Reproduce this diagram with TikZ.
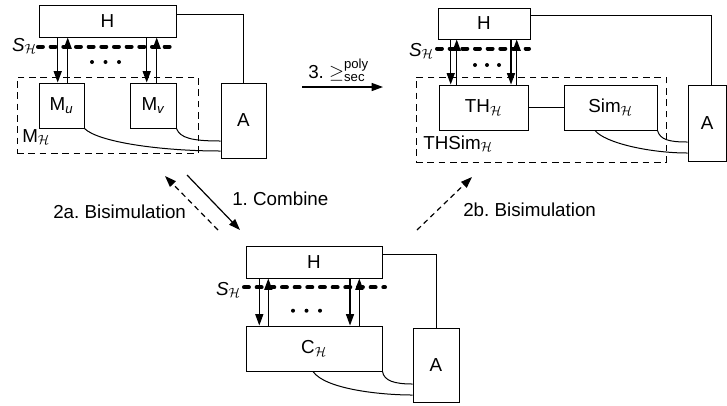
\documentclass[tikz,border=0pt]{standalone}
\usepackage{amsmath}
\usepackage{fontspec}
\setmainfont{Liberation Sans}
\usetikzlibrary{arrows.meta}
\frenchspacing
\newcommand\mainsz{\fontsize{14.1pt}{17pt}\selectfont}
\newcommand\calH{\mathcal{H}}
\tikzset{
  bx/.style 2 args={draw, line width=0.75pt, inner sep=0pt, minimum width=#1*0.75pt, minimum height=#2*0.75pt},
  dbx/.style 2 args={bx={#1}{#2}, dash pattern=on 5pt off 3.5pt},
  arr/.style={line width=0.9pt, -{Triangle[length=8.5pt,width=6pt]}},
  darr/.style={arr, dash pattern=on 4pt off 3pt},
  wire/.style={line width=0.75pt},
  sline/.style={line width=3pt, line cap=round, dash pattern=on 3.7pt off 5.8pt},
  lbl/.style={inner sep=0pt},
  dotc/.style={fill=black}
}
\begin{document}
\begin{tikzpicture}[x=0.75pt,y=-0.75pt,font=\mainsz]
\useasboundingbox (0,0) rectangle (727,405);

% ---------------- top-left ----------------
\node[bx={137}{32}] (h1) at (107.5,21) {H};
\node[bx={45}{75}] (a1) at (243.5,120.5) {A};
\node[dbx={181}{76}] (mh) at (107.5,115) {};
\node[bx={45}{45}] (mu) at (61.5,105.5) {M$_{\textit{u}}$};
\node[bx={46}{45}] (mv) at (153,105.5) {M$_{\textit{v}}$};
\node[lbl,anchor=base west] (mhl) at (22,142) {M$_{\calH}$};
\node[lbl,anchor=base east] (s1) at (37,51) {\textit{S}$_{\calH}$};
\draw[sline] (38,46.7) -- (177,46.7);
\foreach \x in {92,105.5,119} \fill[dotc] (\x,62) circle (2);
\draw[arr] (57.7,0 |- h1.south) -- (57.7,0 |- mu.north);
\draw[arr] (67.7,0 |- mu.north) -- (67.7,0 |- h1.south);
\draw[arr] (146.7,0 |- h1.south) -- (146.7,0 |- mv.north);
\draw[arr] (156.7,0 |- mv.north) -- (156.7,0 |- h1.south);
\draw[wire] (h1.east |- 0,14) -| (a1.north);
\draw[wire] (mu.south east) .. controls (98,142) and (160,151) .. (a1.west |- 0,151);
\draw[wire] (mv.south east) .. controls (180,138) and (192,141) .. (a1.west |- 0,141);

% ---------------- top-right ----------------
\node[bx={92}{31}] (h2) at (484,23.5) {H};
\node[bx={38.5}{76}] (a2) at (707.25,123) {A};
\node[dbx={250}{85}] (ths) at (541,119.5) {};
\node[bx={89}{45}] (th) at (483.5,107.5) {TH$_{\calH}$};
\node[bx={93}{45}] (sim) at (610.5,107.5) {Sim$_{\calH}$};
\node[lbl,anchor=base west] (thsl) at (423,149) {THSim$_{\calH}$};
\node[lbl,anchor=base east] (s2) at (434,56) {\textit{S}$_{\calH}$};
\draw[sline] (437,48.5) -- (529,48.5);
\foreach \x in {475,487,499} \fill[dotc] (\x,65) circle (2);
\draw[arr] (450.7,0 |- h2.south) -- (450.7,0 |- th.north);
\draw[arr] (456.7,0 |- th.north) -- (456.7,0 |- h2.south);
\draw[arr] (511,0 |- h2.south) -- (511,0 |- th.north);
\draw[arr] (516.7,0 |- th.north) -- (516.7,0 |- h2.south);
\draw[wire] (th.east) -- (sim.west);
\draw[wire] (h2.east |- 0,15) -| (711,0 |- a2.north);
\draw[wire] (sim.south east) .. controls (660,140) and (670,142) .. (a2.west |- 0,142);
\draw[wire] (595,0 |- sim.south) .. controls (605,143) and (650,153) .. (a2.west |- 0,153);

% ---------------- bottom ----------------
\node[bx={136}{32}] (h3) at (314,262) {H};
\node[bx={136}{45}] (c3) at (314,348.5) {C$_{\calH}$};
\node[bx={46}{74}] (a3) at (436,365) {A};
\node[lbl,anchor=base east] (s3) at (241,295) {\textit{S}$_{\calH}$};
\draw[sline] (244,287.3) -- (385,287.3);
\foreach \x in {293,306.5,320} \fill[dotc] (\x,310.7) circle (2);
\draw[arr] (259.3,0 |- h3.south) -- (259.3,0 |- c3.north);
\draw[arr] (268.3,0 |- c3.north) -- (268.3,0 |- h3.south);
\draw[arr] (350,0 |- h3.south) -- (350,0 |- c3.north);
\draw[arr] (359.3,0 |- c3.north) -- (359.3,0 |- h3.south);
\draw[wire] (h3.east |- 0,254) -| (a3.north);
\draw[wire] (c3.south east) .. controls (384,381) and (395,384) .. (a3.west |- 0,384);
\draw[wire] (313,0 |- c3.south) .. controls (325,389) and (380,395) .. (a3.west |- 0,395);

% ---------------- transitions ----------------
\coordinate (cbS) at (187,175);
\coordinate (cbE) at (240,230);
\coordinate (baS) at (218,230);
\coordinate (baE) at (165,176);
\coordinate (bbS) at (417,230);
\coordinate (bbE) at (472,177);
\coordinate (thS) at (302,87);
\coordinate (thE) at (383,87);
\draw[arr] (cbS) -- (cbE);
\draw[darr] (baS) -- (baE);
\draw[darr] (bbS) -- (bbE);
\draw[arr] (thS) -- (thE);
\node[lbl,anchor=base west] (l1) at (232,205) {1. Combine};
\node[lbl,anchor=base west] (l2a) at (53,218) {2a. Bisimulation};
\node[lbl,anchor=base west] (l2b) at (463,216) {2b. Bisimulation};
\node[lbl,anchor=base west] (l3) at (308,78) {3. $\geq^{\text{poly}}_{\text{sec}}$};
\end{tikzpicture}
\end{document}
